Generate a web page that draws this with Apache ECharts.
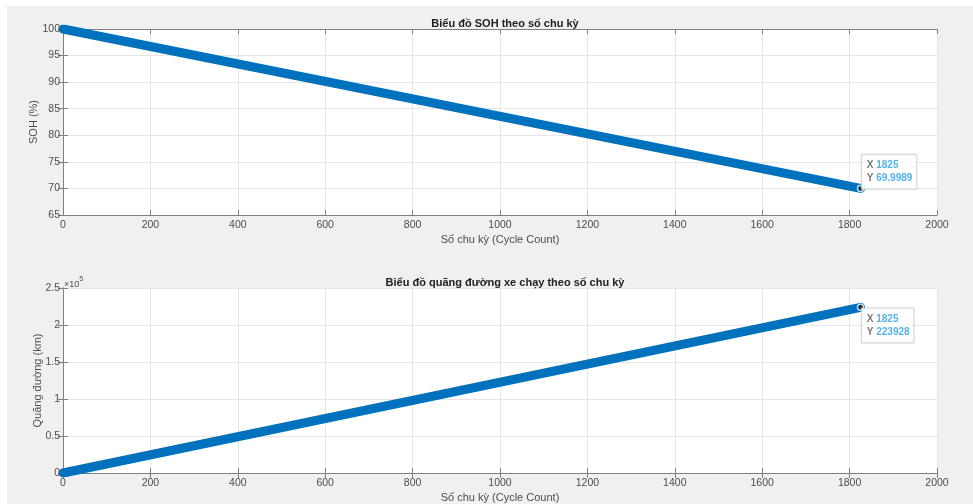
<!DOCTYPE html>
<html><head><meta charset="utf-8">
<script src="https://cdn.jsdelivr.net/npm/echarts@6/dist/echarts.min.js"></script>
<style>
html,body{margin:0;padding:0;background:#fff;}
#bg{position:absolute;left:7px;top:6px;right:0;bottom:0;background:#f0f0f0;}
#c{position:absolute;left:0;top:0;width:973px;height:504px;}
</style></head>
<body><div id="bg"></div><div id="c"></div>
<script>
// Data
const cycles = [0, 1825];
const soh = [100, 69.9989];
const distance = [0, 223928];
const xTicks = [0, 200, 400, 600, 800, 1000, 1200, 1400, 1600, 1800, 2000];
const sohTicks = [65, 70, 75, 80, 85, 90, 95, 100];
const distTicks = [0, 0.5, 1, 1.5, 2, 2.5]; // ×10^5
const titles = ['Biểu đồ SOH theo số chu kỳ', 'Biểu đồ quãng đường xe chạy theo số chu kỳ'];
const xName = 'Số chu kỳ (Cycle Count)';
const yNames = ['SOH (%)', 'Quãng đường (km)'];

const FONT = '"Liberation Sans", Arial, sans-serif';
const lineColor = '#0072BD';
const axisColor = '#808080';
const labelColor = '#4d4d4d';
const gridColor = '#e6e6e6';

const chart = echarts.init(document.getElementById('c'), null, {renderer: 'canvas'});

const grids = [
  {left: 63, top: 29, width: 874, height: 186},
  {left: 63, top: 288, width: 874, height: 185}
];

function xAxisMain(gi) {
  return {
    type: 'value', gridIndex: gi, min: xTicks[0], max: xTicks[xTicks.length - 1],
    interval: xTicks[1] - xTicks[0], position: 'bottom',
    name: xName, nameLocation: 'middle', nameGap: 19, nameMoveOverlap: false,
    nameTextStyle: {color: labelColor, fontFamily: FONT, fontSize: 11},
    axisLine: {show: true, lineStyle: {color: axisColor, width: 1}},
    axisTick: {show: true, inside: true, length: 5, lineStyle: {color: axisColor}},
    axisLabel: {color: labelColor, fontFamily: FONT, fontSize: 10.5, margin: 5,
      formatter: v => String(v)},
    splitLine: {show: true, lineStyle: {color: gridColor, width: 1}}
  };
}
function xAxisTop(gi) {
  return {
    type: 'value', gridIndex: gi, min: xTicks[0], max: xTicks[xTicks.length - 1],
    interval: xTicks[1] - xTicks[0], position: 'top',
    axisLine: {show: true, lineStyle: {color: axisColor, width: 1}},
    axisTick: {show: true, inside: true, length: 5, lineStyle: {color: axisColor}},
    axisLabel: {show: false}, splitLine: {show: false}
  };
}
function yAxisMain(gi, ticks, name, scale, nameGap) {
  return {
    type: 'value', gridIndex: gi, min: ticks[0] * scale, max: ticks[ticks.length - 1] * scale,
    interval: (ticks[1] - ticks[0]) * scale, position: 'left',
    name: name, nameLocation: 'middle', nameGap: nameGap, nameRotate: 90, nameMoveOverlap: false,
    nameTextStyle: {color: labelColor, fontFamily: FONT, fontSize: 11},
    axisLine: {show: true, lineStyle: {color: axisColor, width: 1}},
    axisTick: {show: true, inside: true, length: 5, lineStyle: {color: axisColor}},
    axisLabel: {color: labelColor, fontFamily: FONT, fontSize: 10.5, margin: 3,
      formatter: v => { const t = v / scale; return String(Math.round(t * 100) / 100); }},
    splitLine: {show: true, lineStyle: {color: gridColor, width: 1}}
  };
}
function yAxisRight(gi, ticks, scale) {
  return {
    type: 'value', gridIndex: gi, min: ticks[0] * scale, max: ticks[ticks.length - 1] * scale,
    interval: (ticks[1] - ticks[0]) * scale, position: 'right',
    axisLine: {show: true, lineStyle: {color: axisColor, width: 1}},
    axisTick: {show: true, inside: true, length: 5, lineStyle: {color: axisColor}},
    axisLabel: {show: false}, splitLine: {show: false}
  };
}

function tipLabel(offset) {
  return {
    show: true, position: offset,
    formatter: p => '{k|X }{v|' + p.value[0] + '}\n{k|Y }{v|' + p.value[1] + '}',
    backgroundColor: '#ffffff', borderColor: '#c8c8c8', borderWidth: 1,
    padding: [4, 4, 4, 5],
    rich: {
      k: {color: '#555', fontFamily: FONT, fontSize: 10, fontWeight: 'bold', lineHeight: 13},
      v: {color: '#2a9fe0', fontFamily: FONT, fontSize: 10, fontWeight: 'bold', lineHeight: 13}
    }
  };
}

const sohData = cycles.map((c, i) => [c, soh[i]]);
const distData = cycles.map((c, i) => [c, distance[i]]);
const last = cycles.length - 1;

chart.setOption({
  animation: false,
  backgroundColor: 'transparent',
  title: [
    {text: titles[0], left: 500, top: 13, textAlign: 'center',
     textStyle: {fontFamily: FONT, fontSize: 11, fontWeight: 'bold', color: '#222'}},
    {text: titles[1], left: 500, top: 272, textAlign: 'center',
     textStyle: {fontFamily: FONT, fontSize: 11, fontWeight: 'bold', color: '#222'}}
  ],
  grid: grids.map(g => Object.assign({show: true, backgroundColor: '#fff', borderWidth: 0}, g)),
  xAxis: [xAxisMain(0), xAxisTop(0), xAxisMain(1), xAxisTop(1)],
  yAxis: [yAxisMain(0, sohTicks, yNames[0], 1, 24), yAxisRight(0, sohTicks, 1),
          yAxisMain(1, distTicks, yNames[1], 1e5, 20), yAxisRight(1, distTicks, 1e5)],
  graphic: [
    {type: 'text', left: 64, top: 276,
     style: {text: '{a|×10}{b|5}', fill: labelColor,
       rich: {a: {fontFamily: FONT, fontSize: 9, color: labelColor, padding: [4, 0, 0, 0]},
              b: {fontFamily: FONT, fontSize: 7, color: labelColor, verticalAlign: 'top'}}}}
  ],
  series: [
    {type: 'line', xAxisIndex: 0, yAxisIndex: 0, data: sohData, symbol: 'none',
     lineStyle: {color: lineColor, width: 9, cap: 'round'}},
    {type: 'scatter', xAxisIndex: 0, yAxisIndex: 0, data: [sohData[last]],
     symbol: 'circle', symbolSize: 6,
     itemStyle: {color: '#111', borderColor: '#ffffff', borderWidth: 1.5},
     label: tipLabel([5, -30]), z: 5},
    {type: 'line', xAxisIndex: 2, yAxisIndex: 2, data: distData, symbol: 'none',
     lineStyle: {color: lineColor, width: 9, cap: 'round'}},
    {type: 'scatter', xAxisIndex: 2, yAxisIndex: 2, data: [distData[last]],
     symbol: 'circle', symbolSize: 6,
     itemStyle: {color: '#111', borderColor: '#ffffff', borderWidth: 1.5},
     label: tipLabel([5, 5]), z: 5}
  ]
});
</script></body></html>
